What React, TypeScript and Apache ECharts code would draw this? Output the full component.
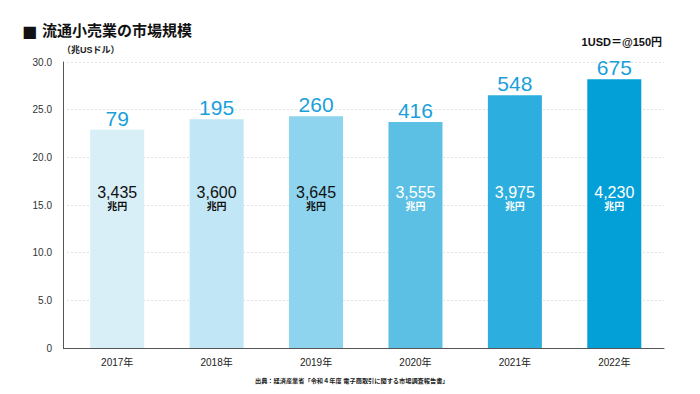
import React, { useEffect, useRef } from "react";
import * as echarts from "echarts";

const categories = ["2017年", "2018年", "2019年", "2020年", "2021年", "2022年"];
const usdTrillion = [22.9, 24.0, 24.3, 23.7, 26.5, 28.2];
const topLabels = ["79", "195", "260", "416", "548", "675"];
const jpyTrillion = [3435, 3600, 3645, 3555, 3975, 4230];
const barColors = ["#d8eff8", "#c1e6f5", "#8ed4ee", "#5cc0e4", "#2caede", "#02a0d7"];
const innerLabelColors = ["#111111", "#111111", "#111111", "#ffffff", "#ffffff", "#ffffff"];
const yTicks = { min: 0, max: 30, interval: 5 };

const FONT = "'Liberation Sans', Arial, Helvetica, 'Noto Sans CJK JP', sans-serif";

export default function App() {
  const ref = useRef<HTMLDivElement>(null);
  useEffect(() => {
    if (!ref.current) return;
    const chart = echarts.init(ref.current, null, { renderer: "svg" });
    chart.setOption({
      animation: false,
      backgroundColor: "#ffffff",
      textStyle: { fontFamily: FONT },
      title: {
        text: "{s|■} {t|流通小売業の市場規模}",
        left: 17,
        top: 17,
        textStyle: {
          rich: {
            s: { fontSize: 16, color: "#111", fontFamily: "'DejaVu Sans', sans-serif" },
            t: { fontSize: 15, fontWeight: "bold", color: "#111", fontFamily: FONT },
          },
        },
      },
      graphic: [
        {
          type: "text",
          left: 62,
          top: 45,
          style: { text: "（兆USドル）", fontSize: 9, fill: "#222", fontFamily: FONT, fontWeight: "bold" },
        },
        {
          type: "text",
          right: 38,
          top: 36,
          style: { text: "1USD＝@150円", fontSize: 11, fontWeight: "bold", fill: "#111", fontFamily: FONT },
        },
        {
          type: "line",
          shape: { x1: 63, y1: 348.5, x2: 68, y2: 348.5 },
          style: { stroke: "#555", lineWidth: 1 },
        },
        {
          type: "text",
          left: 255,
          top: 377,
          style: {
            text: "出典：経済産業省「令和４年度 電子商取引に関する市場調査報告書」",
            fontSize: 6.2,
            fontWeight: "bold",
            fill: "#222",
            fontFamily: FONT,
          },
        },
      ],
      grid: { left: 67.5, right: 36, top: 62, bottom: 46 },
      xAxis: {
        type: "category",
        data: categories,
        axisLine: { lineStyle: { color: "#555", width: 1 } },
        axisTick: { show: false },
        axisLabel: { fontSize: 10, color: "#222", margin: 9, fontFamily: FONT },
      },
      yAxis: {
        type: "value",
        min: yTicks.min,
        max: yTicks.max,
        interval: yTicks.interval,
        offset: 4.5,
        axisLine: { show: true, lineStyle: { color: "#555", width: 1 } },
        axisTick: { show: false },
        axisLabel: {
          fontSize: 10,
          color: "#333",
          margin: 11,
          fontFamily: FONT,
          formatter: (v: number) => (v === 0 ? "0" : v.toFixed(1)),
        },
        splitLine: { lineStyle: { type: [1, 3], color: "#c4c4c4" } },
      },
      series: [
        {
          type: "bar",
          barWidth: 54,
          data: usdTrillion.map((v, i) => ({ value: v, itemStyle: { color: barColors[i] } })),
          label: {
            show: true,
            position: "top",
            distance: 1,
            fontSize: 21,
            color: "#1a9fdb",
            fontFamily: FONT,
            formatter: (p: any) => topLabels[p.dataIndex],
          },
        },
        {
          type: "bar",
          barWidth: 54,
          barGap: "-100%",
          silent: true,
          data: usdTrillion.map((v, i) => ({
            value: v,
            itemStyle: { color: "rgba(0,0,0,0)" },
            label: { color: innerLabelColors[i] },
          })),
          label: {
            show: true,
            position: "insideBottom",
            distance: 136,
            formatter: (p: any) =>
              "{n|" + jpyTrillion[p.dataIndex].toLocaleString("en-US") + "}\n{u|兆円}",
            rich: {
              n: { fontSize: 16, lineHeight: 16, fontFamily: FONT, align: "center" },
              u: { fontSize: 10, lineHeight: 12, fontWeight: "bold", fontFamily: FONT, align: "center" },
            },
          },
        },
      ],
    });
    return () => chart.dispose();
  }, []);
  return <div ref={ref} style={{ position: "absolute", left: 0, top: 0, width: 700, height: 394 }} />;
}
